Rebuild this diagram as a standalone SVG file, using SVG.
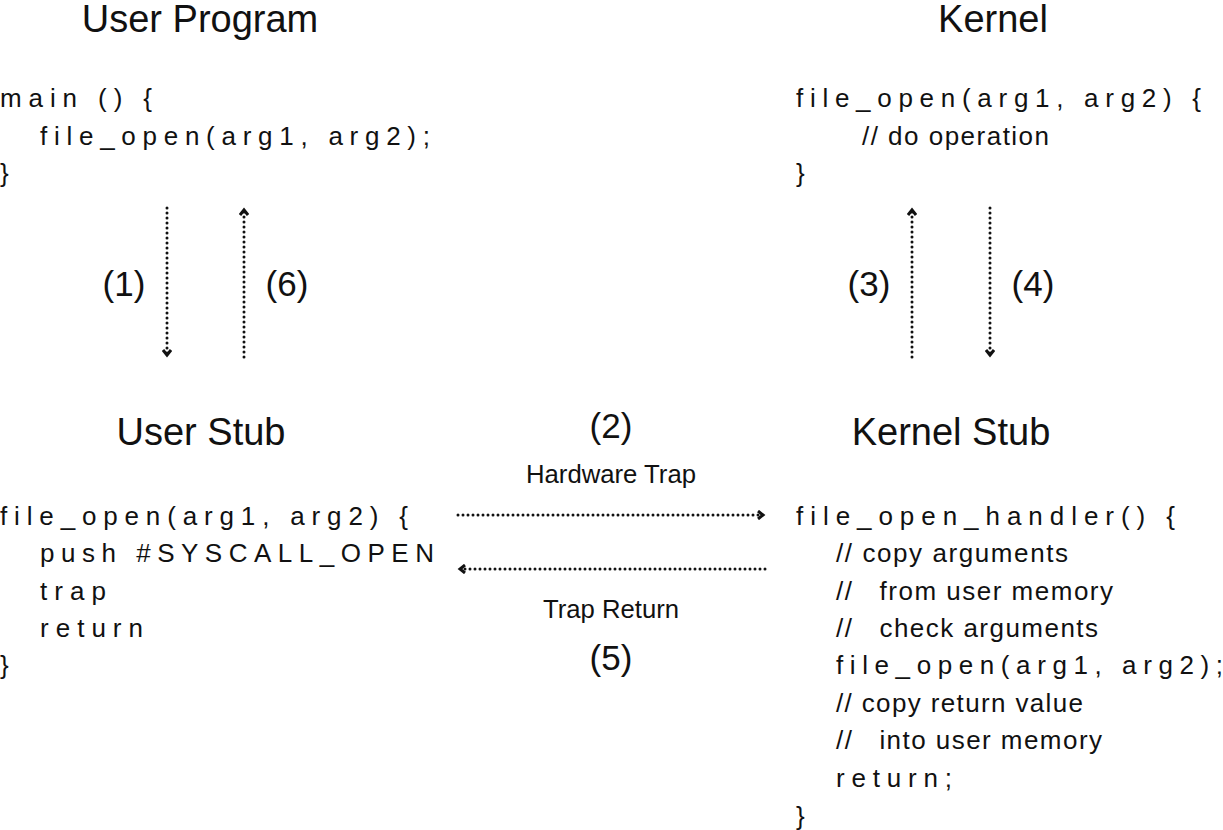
<svg xmlns="http://www.w3.org/2000/svg" width="1223" height="830" viewBox="0 0 1223 830">
<style>
text{font-family:"Liberation Sans",Arial,sans-serif;fill:#111}
.t{font-size:38px;text-anchor:middle}
.c{font-size:26px}
.m{font-size:26px}
.n{font-size:35px;text-anchor:middle}
.h{font-size:25px;text-anchor:middle}
.a{stroke:#111;stroke-width:3;stroke-dasharray:0 5;stroke-linecap:round;fill:none}
</style>
<defs>
<marker id="ah" markerWidth="10" markerHeight="10" refX="7" refY="5" orient="auto" markerUnits="userSpaceOnUse">
<path d="M2,1 L7,5 L2,9" fill="none" stroke="#111" stroke-width="3"/>
</marker>
</defs>
<g id="user-program">
<text class="t" x="200" y="32">User Program</text>
<text class="c" x="0" y="107" textLength="152" lengthAdjust="spacing">main () {</text>
<text class="c" x="40" y="145" textLength="390" lengthAdjust="spacing">file_open(arg1, arg2);</text>
<text class="c" x="0" y="182">}</text>
</g>
<g id="kernel">
<text class="t" x="993" y="32">Kernel</text>
<text class="c" x="796" y="107" textLength="405" lengthAdjust="spacing">file_open(arg1, arg2) {</text>
<text class="m" x="862" y="145" textLength="187" lengthAdjust="spacing">// do operation</text>
<text class="c" x="796" y="182">}</text>
</g>
<g id="user-stub">
<text class="t" x="201" y="445">User Stub</text>
<text class="c" x="0" y="525" textLength="408" lengthAdjust="spacing">file_open(arg1, arg2) {</text>
<text class="c" x="40" y="562" textLength="394" lengthAdjust="spacing">push #SYSCALL_OPEN</text>
<text class="c" x="40" y="600" textLength="66" lengthAdjust="spacing">trap</text>
<text class="c" x="40" y="637" textLength="103" lengthAdjust="spacing">return</text>
<text class="c" x="0" y="674">}</text>
</g>
<g id="kernel-stub">
<text class="t" x="951" y="445">Kernel Stub</text>
<text class="c" x="796" y="525" textLength="379" lengthAdjust="spacing">file_open_handler() {</text>
<text class="m" x="836" y="562" xml:space="preserve" textLength="232" lengthAdjust="spacing">// copy arguments</text>
<text class="m" x="836" y="600" xml:space="preserve" textLength="277" lengthAdjust="spacing">//   from user memory</text>
<text class="m" x="836" y="637" xml:space="preserve" textLength="262" lengthAdjust="spacing">//   check arguments</text>
<text class="c" x="836" y="674" textLength="387" lengthAdjust="spacing">file_open(arg1, arg2);</text>
<text class="m" x="836" y="712" xml:space="preserve" textLength="247" lengthAdjust="spacing">// copy return value</text>
<text class="m" x="836" y="749" xml:space="preserve" textLength="266" lengthAdjust="spacing">//   into user memory</text>
<text class="c" x="836" y="787" textLength="116" lengthAdjust="spacing">return;</text>
<text class="c" x="796" y="825">}</text>
</g>
<g id="connectors">
<line class="a" x1="167" y1="208" x2="167" y2="355" marker-end="url(#ah)"/>
<line class="a" x1="244" y1="357" x2="244" y2="210" marker-end="url(#ah)"/>
<line class="a" x1="912" y1="357" x2="912" y2="210" marker-end="url(#ah)"/>
<line class="a" x1="990" y1="208" x2="990" y2="355" marker-end="url(#ah)"/>
<line class="a" x1="458" y1="515" x2="763" y2="515" marker-end="url(#ah)"/>
<line class="a" x1="765" y1="569" x2="460" y2="569" marker-end="url(#ah)"/>
<text class="n" x="124" y="296">(1)</text>
<text class="n" x="287" y="296">(6)</text>
<text class="n" x="869" y="296">(3)</text>
<text class="n" x="1033" y="296">(4)</text>
<text class="n" x="611" y="438">(2)</text>
<text class="h" x="611" y="483" textLength="170" lengthAdjust="spacingAndGlyphs">Hardware Trap</text>
<text class="h" x="611" y="618" textLength="136" lengthAdjust="spacingAndGlyphs">Trap Return</text>
<text class="n" x="611" y="670">(5)</text>
</g>
</svg>
